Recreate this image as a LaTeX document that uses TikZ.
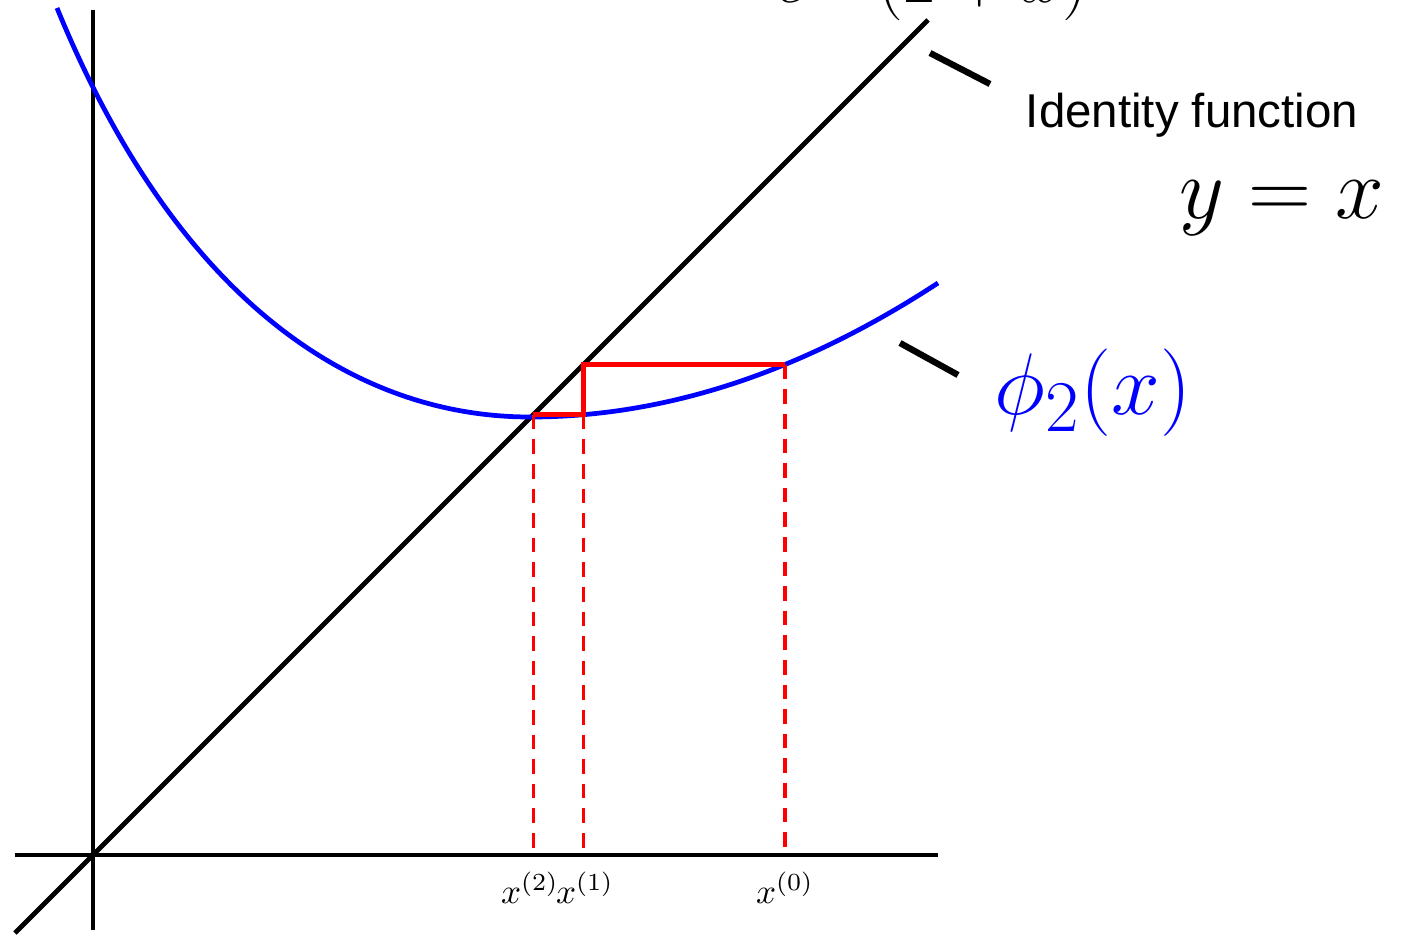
\documentclass[tikz,border=0pt]{standalone}
\usepackage{amsmath}
\usepackage{fontspec}
\newfontfamily\labelfont{Liberation Sans}
\usepackage{tikz}
\usetikzlibrary{positioning}

\tikzset{
  axisline/.style={line width=1.35pt},
  iter/.style={red, line width=1.4pt},
  drop/.style={red, line width=1pt, dash pattern=on 4.2pt off 2.8pt},
  leader/.style={line width=1.8pt},
  biglabel/.style={font=\fontsize{29.5}{33}\selectfont},
}

\begin{document}
\begin{tikzpicture}
		\clip (0,0) rectangle (14.09,9.38);
		% axes and y = x
		\coordinate (xl) at (0.15,0.83);
		\coordinate (xr) at (9.38,0.83);
		\coordinate (yb) at (0.93,0.08);
		\coordinate (yt) at (0.93,9.28);
		\coordinate (idl) at (0.15,0.05);
		\coordinate (idr) at (9.28,9.18);
		\draw[axisline] (xl) -- (xr);
		\draw[axisline] (yb) -- (yt);
		\draw[axisline] (idl) -- (idr);
		% phi_2
		\coordinate (cstart) at (0.57,9.30);
		\coordinate (cmin) at (5.30,5.21);
		\coordinate (cend) at (9.38,6.55);
		\draw[blue, line width=1.35pt] (cstart) .. controls (1.80,6.30) and (3.6,5.21) .. (cmin)
			.. controls (6.66,5.21) and (8.02,5.66) .. (cend);
		% iteration steps
		\coordinate (p0) at (7.85,5.733);
		\coordinate (q0) at (5.833,5.733);
		\coordinate (p1) at (5.833,5.233);
		\coordinate (q1) at (5.333,5.233);
		\node (xzero) at (7.85,0.50) {$x^{(0)}$};
		\node (xone) at (5.85,0.50) {$x^{(1)}$};
		\node (xtwo) at (5.30,0.50) {$x^{(2)}$};
		\draw[drop] (p0) -- (p0 |- xl);
		\draw[drop] (p1) -- (p1 |- xl);
		\draw[drop] (q1) -- (q1 |- xl);
		\draw[iter] (p0) -- (q0) -- (p1) -- (q1);
		% labels
		\node[anchor=base west, font=\fontsize{22}{26}\selectfont] (topfn) at (7.63,9.355) {$e^{-x}(2+x)$};
		\node[font=\labelfont\fontsize{13.5}{16}\selectfont] (idtext) at (11.92,8.23) {Identity function};
		\node[biglabel] (ideq) at (12.82,7.30) {$y = x$};
		\node[biglabel, text=blue] (phitext) at (10.93,5.45) {$\phi_2(x)$};
		\coordinate (idtip) at (9.30,8.85);
		\coordinate (idfoot) at (9.90,8.54);
		\coordinate (phitip) at (9.00,5.95);
		\coordinate (phifoot) at (9.58,5.63);
		\draw[leader] (idtip) -- (idfoot);
		\draw[leader] (phitip) -- (phifoot);
	\end{tikzpicture}
\end{document}
